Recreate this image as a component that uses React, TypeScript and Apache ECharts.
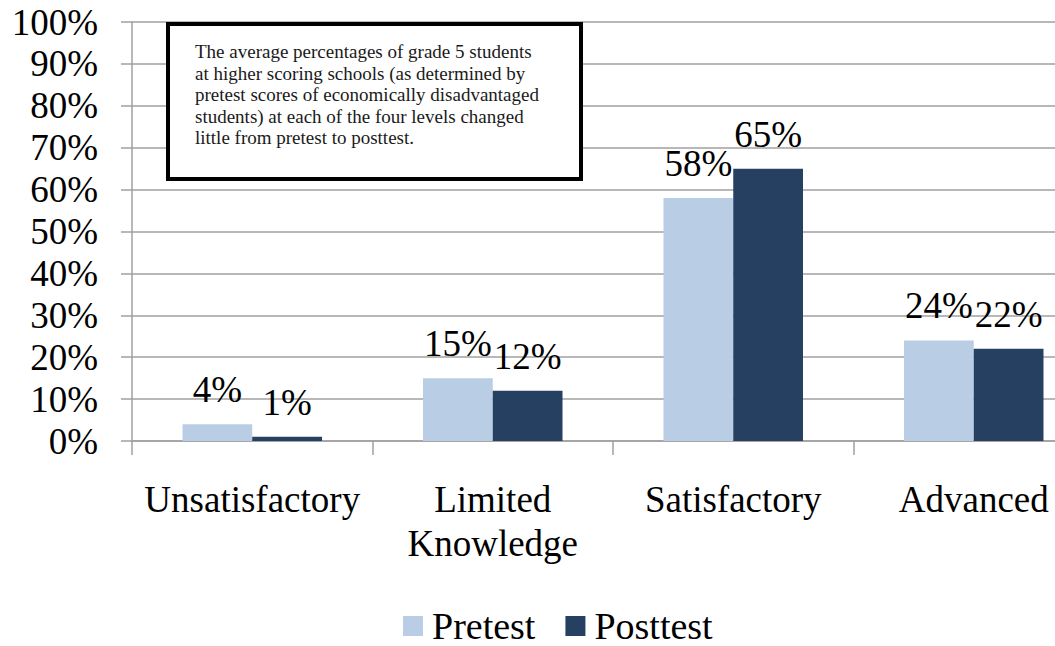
import React, { useEffect, useRef } from "react";
import * as echarts from "echarts";

const categories = ["Unsatisfactory", "Limited\nKnowledge", "Satisfactory", "Advanced"];
const pretest = [4, 15, 58, 24];
const posttest = [1, 12, 65, 22];
const yTicks = [0, 10, 20, 30, 40, 50, 60, 70, 80, 90, 100];
const noteLines = [
  "The average percentages of grade 5 students",
  "at higher scoring schools (as determined by",
  "pretest scores of economically disadvantaged",
  "students) at each of the four levels changed",
  "little from pretest to posttest.",
];

const FONT = "'Liberation Serif', serif";

export default function App() {
  const ref = useRef<HTMLDivElement>(null);
  useEffect(() => {
    if (!ref.current) return;
    const chart = echarts.init(ref.current, undefined, { renderer: "svg" });
    const labelCfg = {
      show: true,
      position: "top",
      distance: 16,
      formatter: "{c}%",
      fontFamily: FONT,
      fontSize: 37,
      color: "#000",
    };
    chart.setOption({
      animation: false,
      backgroundColor: "#fff",
      textStyle: { fontFamily: FONT },
      grid: { left: 132, top: 22, bottom: 205, right: 0, containLabel: false },
      xAxis: {
        type: "category",
        data: categories,
        axisLine: { lineStyle: { color: "#a0a0a0", width: 1.5 } },
        axisTick: { show: true, length: 14, lineStyle: { color: "#a0a0a0", width: 1.5 } },
        axisLabel: { fontFamily: FONT, fontSize: 37, color: "#000", margin: 36, lineHeight: 44, interval: 0 },
      },
      yAxis: {
        type: "value",
        min: yTicks[0],
        max: yTicks[yTicks.length - 1],
        interval: 10,
        axisLine: { show: true, lineStyle: { color: "#a0a0a0", width: 1.5 } },
        axisTick: { show: true, length: 11, lineStyle: { color: "#a0a0a0", width: 1.5 } },
        splitLine: { lineStyle: { color: "#a0a0a0", width: 1.5 } },
        axisLabel: { fontFamily: FONT, fontSize: 37, color: "#000", margin: 34, formatter: "{value}%" },
      },
      legend: {
        left: 403,
        top: 607,
        icon: "rect",
        itemWidth: 20,
        itemHeight: 20,
        itemGap: 30,
        padding: 0,
        textStyle: { fontFamily: FONT, fontSize: 38, color: "#000", padding: [0, 0, 0, 4] },
        data: ["Pretest", "Posttest"],
      },
      series: [
        {
          name: "Pretest",
          type: "bar",
          data: pretest,
          barGap: "0%",
          barCategoryGap: "42%",
          itemStyle: { color: "#B9CDE5" },
          label: labelCfg,
        },
        {
          name: "Posttest",
          type: "bar",
          data: posttest,
          itemStyle: { color: "#254061" },
          label: labelCfg,
        },
      ],
      graphic: [
        {
          type: "rect",
          z: 100,
          shape: { x: 168, y: 24, width: 413, height: 155 },
          style: { fill: "#fff", stroke: "#000", lineWidth: 4 },
        },
        {
          type: "text",
          z: 101,
          x: 195,
          y: 41,
          style: {
            text: noteLines.join("\n"),
            fontFamily: FONT,
            fontSize: 19,
            lineHeight: 21.5,
            fill: "#1a1a1a",
          },
        },
      ],
    });
    return () => chart.dispose();
  }, []);
  return (
    <div style={{ width: 1055, height: 646, position: "absolute", left: 0, top: 0, overflow: "hidden" }}>
      <div ref={ref} style={{ width: 1094, height: 646 }} />
    </div>
  );
}
